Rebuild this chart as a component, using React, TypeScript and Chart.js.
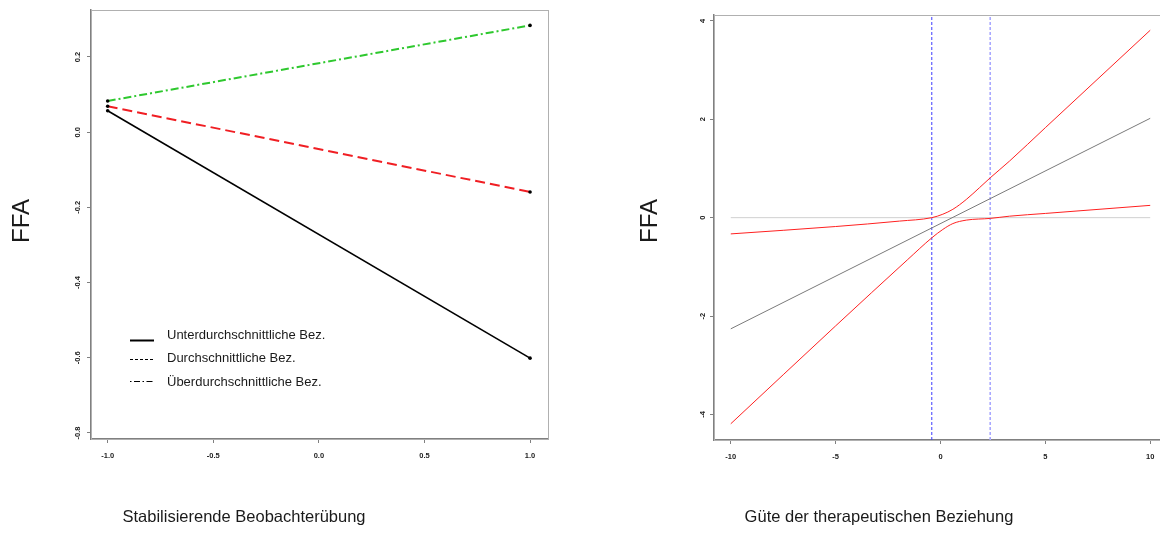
import React, { useEffect, useRef } from "react";
import { Chart, registerables } from "chart.js";

Chart.register(...registerables);

// ---------- Left panel data ----------
const conditionX = [-1, 1];
const belowAvg = [0.057, -0.601];
const average = [0.069, -0.159];
const aboveAvg = [0.083, 0.284];
const legendLabels = [
  "Unterdurchschnittliche Bez.",
  "Durchschnittliche Bez.",
  "Überdurchschnittliche Bez.",
];
const leftXTicks = [-1, -0.5, 0, 0.5, 1];
const leftXLabels = ["-1.0", "-0.5", "0.0", "0.5", "1.0"];
const leftYTicks = [0.2, 0, -0.2, -0.4, -0.6, -0.8];
const leftYLabels = ["0.2", "0.0", "-0.2", "-0.4", "-0.6", "-0.8"];
const leftXRange = [-1.079, 1.085];
const leftYRange = [-0.816, 0.325];
const leftXTitle = "Stabilisierende Beobachterübung";
const yTitle = "FFA";

// ---------- Right panel data ----------
const lineX = [-10, 10];
const zeroY = [0, 0];
const effectY = [-2.26, 2.02];
const upperX = [-10, -5, -1.96, -0.415, 0.11, 0.59, 1.23, 1.86, 2.37, 3.29, 5, 10];
const upperY = [-0.33, -0.18, -0.07, 0.0, 0.07, 0.17, 0.37, 0.61, 0.81, 1.15, 1.83, 3.81];
const lowerX = [-10, -5, -1.56, -0.415, 0.11, 0.59, 1.23, 2.37, 3.29, 5, 10];
const lowerY = [-4.19, -2.2, -0.85, -0.41, -0.24, -0.12, -0.05, -0.015, 0.03, 0.086, 0.25];
const jnPoints = [-0.415, 2.37];
const rightXTicks = [-10, -5, 0, 5, 10];
const rightXLabels = ["-10", "-5", "0", "5", "10"];
const rightYTicks = [4, 2, 0, -2, -4];
const rightYLabels = ["4", "2", "0", "-2", "-4"];
const rightXRange = [-10.8, 10.8];
const rightYRange = [-4.52, 4.12];
const rightXTitle = "Güte der therapeutischen Beziehung";

const FONT = "'Liberation Sans', Arial, sans-serif";
const tickFont = { family: FONT, size: 7.5, weight: "bold" as const };

function pts(xs: number[], ys: number[]) {
  return xs.map((x, i) => ({ x, y: ys[i] }));
}

function makeScales(
  xr: number[], yr: number[], xt: number[], xl: string[], yt: number[], yl: string[],
  yWidth: number, xHeight: number, yPad: number
) {
  return {
    x: {
      type: "linear",
      min: xr[0],
      max: xr[1],
      afterBuildTicks: (s: any) => { s.ticks = xt.map((v) => ({ value: v })); },
      afterFit: (s: any) => { s.height = xHeight; },
      ticks: {
        autoSkip: false, maxRotation: 0, minRotation: 0, padding: 8,
        font: tickFont, color: "#222",
        callback: (_v: any, i: number) => xl[i],
      },
      grid: { drawOnChartArea: false, drawTicks: true, tickLength: 4, color: "#808080", tickWidth: 1 },
      border: { display: true, color: "#808080", width: 1.5 },
    },
    y: {
      type: "linear",
      min: yr[0],
      max: yr[1],
      afterBuildTicks: (s: any) => { s.ticks = yt.map((v) => ({ value: v })); },
      afterFit: (s: any) => { s.width = yWidth; },
      ticks: {
        autoSkip: false, minRotation: 90, maxRotation: 90, crossAlign: "center", padding: yPad,
        font: tickFont, color: "#222",
        callback: (_v: any, i: number) => yl[i],
      },
      grid: { drawOnChartArea: false, drawTicks: true, tickLength: 4, color: "#808080", tickWidth: 1 },
      border: { display: true, color: "#808080", width: 1.5 },
    },
  };
}

function boxPlugin() {
  return {
    id: "box",
    beforeDatasetsDraw(chart: any) {
      const { ctx, chartArea: a } = chart;
      ctx.save();
      ctx.strokeStyle = "#b0b0b0";
      ctx.lineWidth = 1;
      ctx.strokeRect(a.left + 0.5, a.top + 0.5, a.right - a.left, a.bottom - a.top);
      ctx.restore();
    },
  };
}

function textPlugin(ffaX: number, titleX: number, title: string) {
  return {
    id: "texts",
    afterDraw(chart: any) {
      const { ctx } = chart;
      ctx.save();
      ctx.fillStyle = "#1a1a1a";
      ctx.textAlign = "center";
      ctx.textBaseline = "middle";
      ctx.font = `24px ${FONT}`;
      ctx.translate(ffaX, 221);
      ctx.rotate(-Math.PI / 2);
      ctx.fillText(yTitle, 0, 0);
      ctx.restore();
      ctx.save();
      ctx.fillStyle = "#1a1a1a";
      ctx.textAlign = "center";
      ctx.textBaseline = "middle";
      ctx.font = `16.5px ${FONT}`;
      ctx.fillText(title, titleX, 517);
      ctx.restore();
    },
  };
}

const legendPlugin = {
  id: "rlegend",
  afterDraw(chart: any) {
    const { ctx } = chart;
    ctx.save();
    ctx.strokeStyle = "#000";
    ctx.lineWidth = 2;
    ctx.beginPath();
    ctx.moveTo(130, 340.5);
    ctx.lineTo(154, 340.5);
    ctx.stroke();
    ctx.lineWidth = 1;
    ctx.setLineDash([3, 2]);
    ctx.beginPath();
    ctx.moveTo(130, 359.5);
    ctx.lineTo(154, 359.5);
    ctx.stroke();
    ctx.setLineDash([1.5, 2.5, 6, 2.5]);
    ctx.beginPath();
    ctx.moveTo(130, 381.5);
    ctx.lineTo(155, 381.5);
    ctx.stroke();
    ctx.setLineDash([]);
    ctx.fillStyle = "#1a1a1a";
    ctx.font = `13px ${FONT}`;
    ctx.textAlign = "left";
    ctx.textBaseline = "middle";
    const ys = [335, 358, 382];
    legendLabels.forEach((t, i) => ctx.fillText(t, 167, ys[i]));
    ctx.restore();
  },
};

export default function App() {
  const leftRef = useRef<HTMLCanvasElement>(null);
  const rightRef = useRef<HTMLCanvasElement>(null);

  useEffect(() => {
    const left = new Chart(leftRef.current as HTMLCanvasElement, {
      type: "scatter",
      data: {
        datasets: [
          {
            data: pts(conditionX, belowAvg), showLine: true, borderColor: "#000", borderWidth: 1.6,
            pointRadius: 1.8, pointBackgroundColor: "#000", pointBorderWidth: 0,
          },
          {
            data: pts(conditionX, average), showLine: true, borderColor: "#f01e23", borderWidth: 2,
            borderDash: [10, 5], pointRadius: 1.8, pointBackgroundColor: "#000", pointBorderWidth: 0,
          },
          {
            data: pts(conditionX, aboveAvg), showLine: true, borderColor: "#2ec82e", borderWidth: 2,
            borderDash: [8, 3, 2, 3], pointRadius: 1.8, pointBackgroundColor: "#000", pointBorderWidth: 0,
          },
        ],
      } as any,
      options: {
        responsive: false,
        animation: false,
        layout: { padding: { left: 0, top: 10, right: 32, bottom: 0 } },
        plugins: { legend: { display: false }, tooltip: { enabled: false } },
        scales: makeScales(leftXRange, leftYRange, leftXTicks, leftXLabels, leftYTicks, leftYLabels, 91, 94, 3) as any,
      },
      plugins: [boxPlugin(), textPlugin(22, 244, leftXTitle), legendPlugin],
    });

    const right = new Chart(rightRef.current as HTMLCanvasElement, {
      type: "scatter",
      data: {
        datasets: [
          {
            data: pts(upperX, upperY), showLine: true, borderColor: "#ff2020", borderWidth: 1,
            pointRadius: 0, cubicInterpolationMode: "monotone",
          },
          {
            data: pts(lowerX, lowerY), showLine: true, borderColor: "#ff2020", borderWidth: 1,
            pointRadius: 0, cubicInterpolationMode: "monotone",
          },
          {
            data: pts(lineX, effectY), showLine: true, borderColor: "#7a7a7a", borderWidth: 1, pointRadius: 0,
          },
          {
            data: pts(lineX, zeroY), showLine: true, borderColor: "#d0d0d0", borderWidth: 1, pointRadius: 0,
          },
          {
            data: pts([jnPoints[0], jnPoints[0]], rightYRange), showLine: true, borderColor: "#3c3cff",
            borderWidth: 1, borderDash: [3, 2], pointRadius: 0,
          },
          {
            data: pts([jnPoints[1], jnPoints[1]], rightYRange), showLine: true, borderColor: "#a8a8ff",
            borderWidth: 1.6, borderDash: [3, 2], pointRadius: 0,
          },
        ],
      } as any,
      options: {
        responsive: false,
        animation: false,
        layout: { padding: { left: 0, top: 15, right: 0, bottom: 0 } },
        plugins: { legend: { display: false }, tooltip: { enabled: false } },
        scales: makeScales(rightXRange, rightYRange, rightXTicks, rightXLabels, rightYTicks, rightYLabels, 134, 93, 4) as any,
      },
      plugins: [boxPlugin(), textPlugin(70, 299, rightXTitle)],
    });

    return () => {
      left.destroy();
      right.destroy();
    };
  }, []);

  return (
    <div style={{ position: "fixed", left: 0, top: 0, width: 1160, height: 533, background: "#fff", overflow: "hidden" }}>
      <canvas ref={leftRef} width={580} height={533}
        style={{ position: "absolute", left: 0, top: 0, width: 580, height: 533 }} />
      <canvas ref={rightRef} width={587} height={533}
        style={{ position: "absolute", left: 580, top: 0, width: 587, height: 533 }} />
    </div>
  );
}
